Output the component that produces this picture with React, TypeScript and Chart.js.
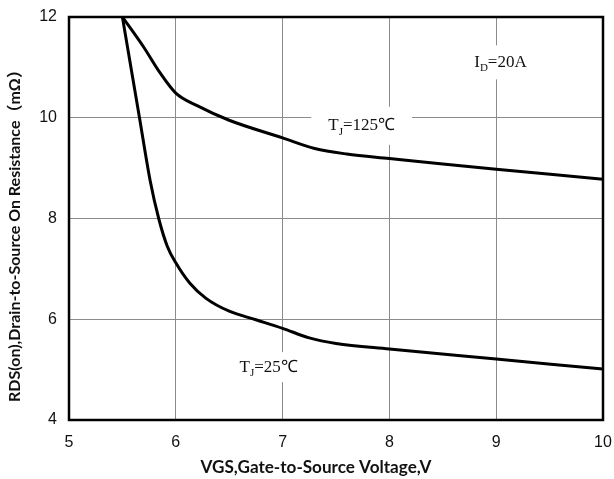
import React, { useEffect, useRef } from "react";
import { Chart, registerables } from "chart.js";

Chart.register(...registerables);

// Data
const vgs125 = [5.5, 5.7, 5.85, 6.0, 6.2, 6.5, 7.0, 7.3, 7.6, 8.0, 8.5, 9.0, 10];
const rds125 = [12, 11.4, 10.9, 10.49, 10.24, 9.95, 9.6, 9.39, 9.28, 9.19, 9.08, 8.98, 8.78];

const vgs25 = [5.5, 5.66, 5.76, 5.84, 5.92, 6.0, 6.13, 6.28, 6.5, 6.75, 7.0, 7.25, 7.5, 8.0, 9.0, 10];
const rds25 = [12, 10.0, 8.75, 8.0, 7.45, 7.12, 6.72, 6.42, 6.16, 5.99, 5.82, 5.63, 5.52, 5.41, 5.21, 5.01];

const xTicks = [5, 6, 7, 8, 9, 10];
const yTicks = [4, 6, 8, 10, 12];

const xTitle = "VGS,Gate-to-Source Voltage,V";
const yTitle = "RDS(on),Drain-to-Source On Resistance（mΩ）";

// Annotations (data coordinates of text centre)
const notes = [
  { main: "T", sub: "J", rest: "=125℃", x: 7.74, y: 9.84, padX: 17, padY: 19 },
  { main: "T", sub: "J", rest: "=25℃", x: 6.87, y: 5.05, padX: 6, padY: 15 },
  { main: "I", sub: "D", rest: "=20A", x: 9.04, y: 11.1, padX: 0, padY: 17 },
];

const toPts = (xs: number[], ys: number[]) => xs.map((x, i) => ({ x, y: ys[i] }));

const titleFont = "'Lato', 'Noto Sans CJK SC', sans-serif";

function fitText(ctx: any, text: string, target: number) {
  ctx.font = `bold 16px ${titleFont}`;
  const w = ctx.measureText(text).width;
  const size = (16 * target) / w;
  ctx.font = `bold ${size.toFixed(2)}px ${titleFont}`;
}

const notesPlugin = {
  id: "notes",
  beforeDatasetsDraw(chart: any) {
    const ctx = chart.ctx;
    const xs = chart.scales.x;
    const ys = chart.scales.y;
    ctx.save();
    for (const n of notes) {
      const cx = xs.getPixelForValue(n.x);
      const cy = ys.getPixelForValue(n.y);
      ctx.font = "17px 'Liberation Serif', serif";
      const w1 = ctx.measureText(n.main).width;
      const w3 = ctx.measureText(n.rest).width;
      ctx.font = "11px 'Liberation Serif', serif";
      const w2 = ctx.measureText(n.sub).width;
      const total = w1 + w2 + w3;
      ctx.fillStyle = "#fff";
      ctx.fillRect(cx - total / 2 - n.padX, cy - n.padY, total + 2 * n.padX, 2 * n.padY);
      const x0 = cx - total / 2;
      ctx.fillStyle = "#111";
      ctx.textBaseline = "middle";
      ctx.textAlign = "left";
      ctx.font = "17px 'Liberation Serif', serif";
      ctx.fillText(n.main, x0, cy);
      ctx.font = "11px 'Liberation Serif', serif";
      ctx.fillText(n.sub, x0 + w1, cy + 6);
      ctx.font = "17px 'Liberation Serif', serif";
      ctx.fillText(n.rest, x0 + w1 + w2, cy);
    }
    ctx.restore();
  },
  afterDraw(chart: any) {
    const ctx = chart.ctx;
    const a = chart.chartArea;
    ctx.save();
    ctx.strokeStyle = "#000";
    ctx.lineWidth = 2.5;
    ctx.strokeRect(a.left, a.top, a.right - a.left, a.bottom - a.top);
    // axis titles
    ctx.fillStyle = "#111";
    ctx.textAlign = "center";
    ctx.textBaseline = "middle";
    fitText(ctx, xTitle, 231);
    ctx.fillText(xTitle, 316, 467);
    ctx.translate(15, 232);
    ctx.rotate(-Math.PI / 2);
    fitText(ctx, yTitle, 340);
    ctx.fillText(yTitle, 0, 0);
    ctx.restore();
  },
};

export default function App() {
  const ref = useRef<HTMLCanvasElement>(null);
  useEffect(() => {
    document.body.style.margin = "0";
    const chart = new Chart(ref.current!, {
      type: "line",
      data: {
        datasets: [
          {
            label: "TJ=125℃",
            data: toPts(vgs125, rds125),
            borderColor: "#000",
            borderWidth: 3,
            pointRadius: 0,
            cubicInterpolationMode: "monotone",
            fill: false,
          },
          {
            label: "TJ=25℃",
            data: toPts(vgs25, rds25),
            borderColor: "#000",
            borderWidth: 3,
            pointRadius: 0,
            cubicInterpolationMode: "monotone",
            fill: false,
          },
        ],
      },
      options: {
        animation: false,
        responsive: true,
        maintainAspectRatio: false,
        layout: { padding: { top: 17, right: 11, left: 0, bottom: 0 } },
        plugins: { legend: { display: false }, tooltip: { enabled: false } },
        scales: {
          x: {
            type: "linear",
            min: 5,
            max: 10,
            afterBuildTicks: (s: any) => {
              s.ticks = xTicks.map((v) => ({ value: v }));
            },
            afterFit: (s: any) => {
              s.height = 59;
              s.paddingLeft = 0;
              s.paddingRight = 0;
            },
            grid: { color: "#8c8c8c", lineWidth: 1, drawTicks: false },
            border: { display: false },
            ticks: {
              padding: 13,
              color: "#111",
              font: { family: "'Liberation Sans', Arial, sans-serif", size: 16 },
            },
          },
          y: {
            type: "linear",
            min: 4,
            max: 12,
            afterBuildTicks: (s: any) => {
              s.ticks = yTicks.map((v) => ({ value: v }));
            },
            afterFit: (s: any) => {
              s.width = 69;
              s.paddingTop = 0;
              s.paddingBottom = 0;
            },
            grid: { color: "#8c8c8c", lineWidth: 1, drawTicks: false },
            border: { display: false },
            ticks: {
              padding: 12,
              color: "#111",
              font: { family: "'Liberation Sans', Arial, sans-serif", size: 16 },
            },
          },
        },
      },
      plugins: [notesPlugin],
    } as any);
    return () => chart.destroy();
  }, []);
  return (
    <div style={{ position: "fixed", left: 0, top: 0, width: 614, height: 479, background: "#fff" }}>
      <canvas ref={ref} />
    </div>
  );
}
